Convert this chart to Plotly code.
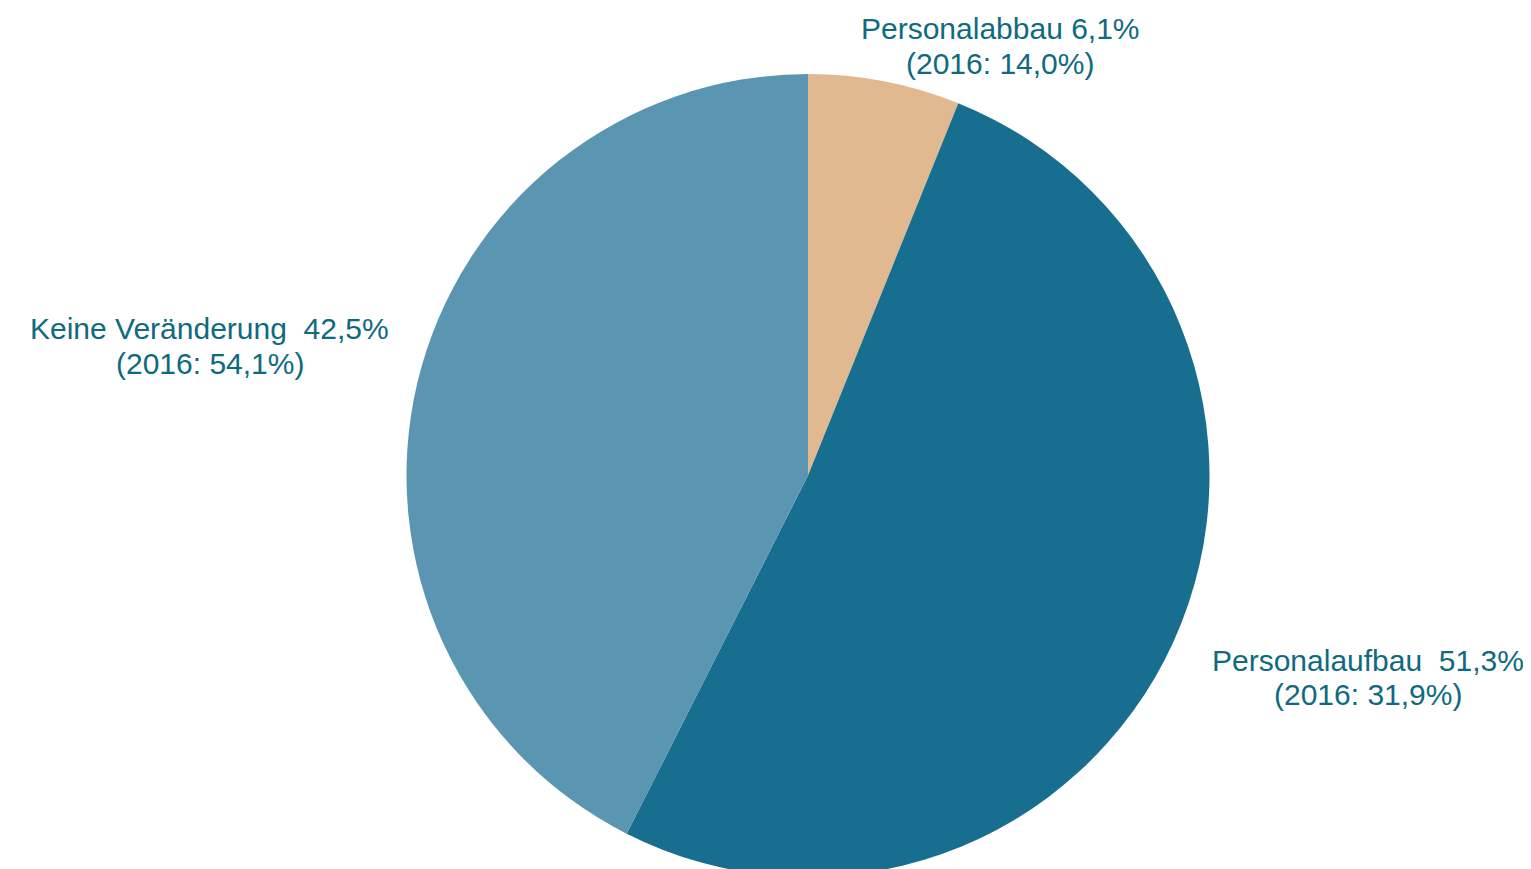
import plotly.graph_objects as go

labels = ["Personalabbau", "Personalaufbau", "Keine Veränderung"]
values = [6.1, 51.3, 42.5]
values_2016 = ["14,0%", "31,9%", "54,1%"]
values_txt = ["6,1%", "51,3%", "42,5%"]
colors = ["#E0B990", "#176E8E", "#5A96B1"]

W, H = 1531, 869

fig = go.Figure(go.Pie(
    labels=labels, values=values, sort=False, direction="clockwise", rotation=0,
    marker=dict(colors=colors, line=dict(width=0)),
    textinfo="none", hoverinfo="label+percent", showlegend=False,
    domain=dict(x=[77 / W, 1 - 8 / W], y=[0, 1 - 66 / H]),
))

# label positions (pixel centres): x, y of line 1, y of line 2
label_pos = [(992, 20, 55), (1360, 652, 686), (202, 320, 355)]
seps = [" ", "  ", "  "]
font = dict(family="Liberation Sans, Arial, sans-serif", size=30, color="#0F6A80")
for lab, v, v16, (px, py1, py2), s in zip(labels, values_txt, values_2016, label_pos, seps):
    for txt, py in ((f"{lab}{s}{v}", py1), (f"(2016: {v16})", py2)):
        fig.add_annotation(
            x=px / W, y=1 - py / H, xref="paper", yref="paper",
            text=txt, showarrow=False,
            xanchor="center", yanchor="middle", align="center", font=font,
        )

fig.update_layout(
    width=W, height=H, margin=dict(l=0, r=0, t=0, b=0),
    paper_bgcolor="white", plot_bgcolor="white",
)
fig.write_html("out.html")
